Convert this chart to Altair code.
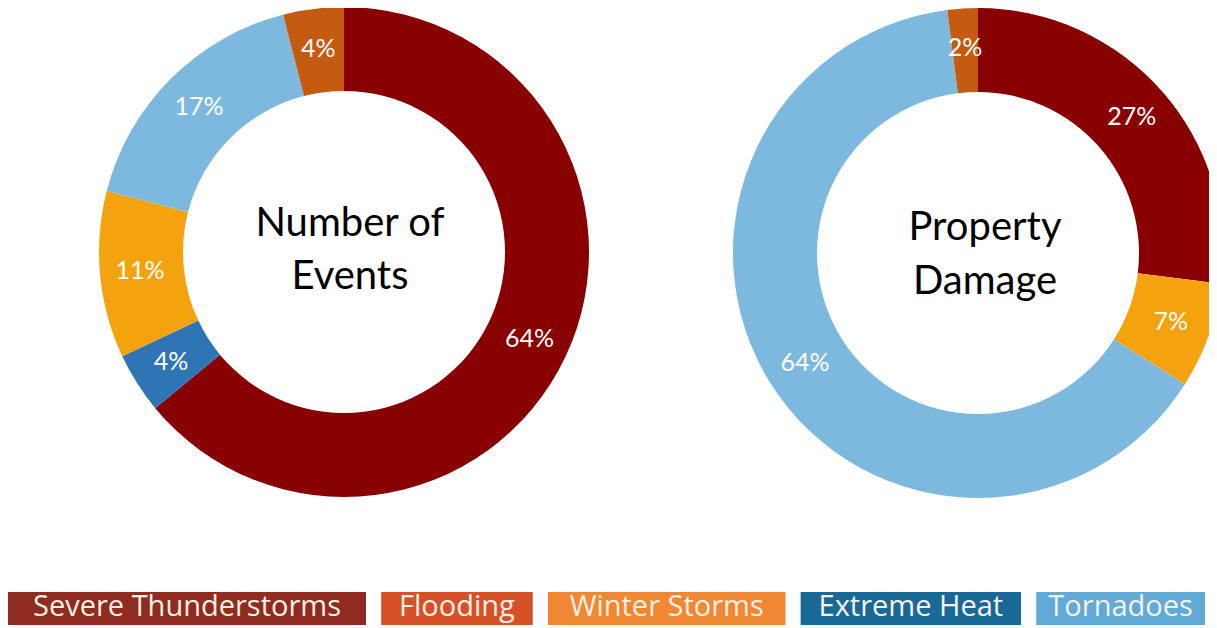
import altair as alt
import pandas as pd

# ---------------- data ----------------
CATEGORIES = ["Severe Thunderstorms", "Flooding", "Winter Storms", "Extreme Heat", "Tornadoes"]
DONUT_COLORS = ["#880000", "#C55A11", "#F4A30F", "#2E75B6", "#7DB9DE"]
LEGEND_COLORS = ["#8F2B1F", "#D65028", "#F08732", "#196996", "#5FAAD7"]

EVENTS_ORDER = ["Severe Thunderstorms", "Extreme Heat", "Winter Storms", "Tornadoes", "Flooding"]
EVENTS_PCT = [64, 4, 11, 17, 4]

DAMAGE_ORDER = ["Severe Thunderstorms", "Winter Storms", "Tornadoes", "Flooding"]
DAMAGE_PCT = [27, 7, 64, 2]

CENTER_TITLES = [["Number of", "Events"], ["Property", "Damage"]]

# ---------------- layout ----------------
W, H = 1201, 617
OUTER_R, INNER_R, LABEL_R = 245, 161, 205


def donut_df(order, pct):
    return pd.DataFrame({
        "category": order,
        "pct": pct,
        "rank": list(range(len(order))),
        "label": [f"{p}%" for p in pct],
    })


def donut(df, cx, cy, title, tx, ty, line_h):
    base = alt.Chart(df).encode(
        theta=alt.Theta("pct:Q", stack=True),
        order=alt.Order("rank:Q"),
    )
    arc = base.mark_arc(outerRadius=OUTER_R, innerRadius=INNER_R).encode(
        x=alt.value(cx),
        y=alt.value(cy),
        color=alt.Color("category:N",
                        scale=alt.Scale(domain=CATEGORIES, range=DONUT_COLORS),
                        legend=None),
    )
    labels = base.mark_text(radius=LABEL_R, font="Lato", fontSize=25,
                            color="white", align="center", baseline="middle").encode(
        x=alt.value(cx),
        y=alt.value(cy),
        text="label:N",
        detail="category:N",
    )
    center = alt.Chart(pd.DataFrame({"t": [0]})).mark_text(
        font="Lato", fontSize=40, color="black", align="center",
        baseline="alphabetic", lineHeight=line_h,
    ).encode(
        x=alt.value(tx), y=alt.value(ty), text=alt.value(title)
    )
    return arc, labels, center


ev_arc, ev_lab, ev_center = donut(donut_df(EVENTS_ORDER, EVENTS_PCT), 336, 244,
                                  CENTER_TITLES[0], 342, 228, 53)
dm_arc, dm_lab, dm_center = donut(donut_df(DAMAGE_ORDER, DAMAGE_PCT), 970, 245,
                                  CENTER_TITLES[1], 977, 232, 54)

# legend boxes (widths follow label length)
widths = [17.2 * len(c) + 14 for c in CATEGORIES]
gap = (1197 - sum(widths)) / (len(CATEGORIES) - 1)
x0, x1 = [], []
pos = 0.0
for w in widths:
    x0.append(pos)
    x1.append(pos + w)
    pos += w + gap
leg_df = pd.DataFrame({"name": CATEGORIES, "x0": x0, "x1": x1, "hex": LEGEND_COLORS})

xs = alt.Scale(domain=[0, W], nice=False, zero=False)
leg_base = alt.Chart(leg_df)
leg_rect = leg_base.mark_rect().encode(
    x=alt.X("x0:Q", scale=xs, axis=None),
    x2="x1:Q",
    y=alt.value(584),
    y2=alt.value(617),
    color=alt.Color("hex:N", scale=None),
)
leg_text = leg_base.transform_calculate(xm="(datum.x0 + datum.x1) / 2").mark_text(
    font="Open Sans", fontSize=29, color="#F7F0E4", align="center", baseline="middle"
).encode(
    x=alt.X("xm:Q", scale=xs, axis=None),
    y=alt.value(599),
    text="name:N",
)

chart = alt.layer(
    ev_arc, ev_lab, ev_center, dm_arc, dm_lab, dm_center, leg_rect, leg_text
).resolve_scale(
    theta="independent", color="independent"
).properties(
    width=W, height=H, padding=0, autosize=alt.AutoSizeParams(type="none"),
    background="white",
).configure_view(strokeWidth=0)

chart.save("out.html", embed_options={"renderer": "svg", "actions": False})
